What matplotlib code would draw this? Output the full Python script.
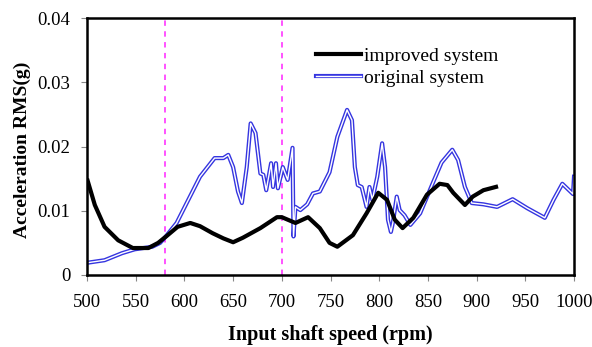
import numpy as np
import matplotlib
matplotlib.use('Agg')
import matplotlib.pyplot as plt
from matplotlib.lines import Line2D
import matplotlib.patheffects as pe

plt.rcParams['font.family'] = ['Liberation Serif', 'DejaVu Serif']

# improved system
imp_rpm = [500, 508, 518, 532, 547, 563, 573, 582, 593, 606, 616, 629, 640, 650, 660,
           678, 695, 700, 714, 727, 739, 749, 757, 773, 787, 799, 808, 816, 824, 835,
           849, 862, 870, 876, 888, 896, 907, 922]
imp_rms = [0.0150, 0.0109, 0.0075, 0.0054, 0.0042, 0.0042, 0.0050, 0.0061, 0.0075, 0.0081,
           0.0076, 0.0065, 0.0057, 0.0051, 0.0058, 0.0073, 0.0090, 0.0090, 0.0081, 0.0090,
           0.0073, 0.0050, 0.0044, 0.0062, 0.0096, 0.0128, 0.0117, 0.0086, 0.0073, 0.0089,
           0.0125, 0.0142, 0.0140, 0.0128, 0.0109, 0.0122, 0.0132, 0.0138]

# original system
org_rpm = [500, 518, 536, 549, 567, 575, 582, 592, 604, 616, 631, 640, 645, 650, 655,
           659, 664, 668, 673, 678, 681, 684, 689, 691, 694, 696, 701, 706, 711, 712,
           714, 719, 726, 732, 739, 749, 757, 762, 767, 772, 775, 778, 782, 787, 790,
           793, 798, 803, 806, 809, 812, 814, 818, 821, 826, 832, 842, 855, 864, 875,
           881, 888, 895, 907, 921, 937, 952, 970, 979, 988, 999, 1000]
org_rms = [0.0019, 0.0023, 0.0034, 0.0040, 0.0044, 0.0050, 0.0062, 0.0081, 0.0117, 0.0153,
           0.0182, 0.0182, 0.0187, 0.0168, 0.0130, 0.0112, 0.0168, 0.0236, 0.0221, 0.0158,
           0.0156, 0.0132, 0.0174, 0.0137, 0.0174, 0.0135, 0.0168, 0.0148, 0.0198, 0.0060,
           0.0106, 0.0101, 0.0110, 0.0127, 0.0130, 0.0160, 0.0215, 0.0236, 0.0257, 0.0241,
           0.0168, 0.0140, 0.0137, 0.0106, 0.0137, 0.0117, 0.0153, 0.0205, 0.0168, 0.0086,
           0.0067, 0.0081, 0.0122, 0.0101, 0.0093, 0.0078, 0.0096, 0.0143, 0.0175, 0.0195,
           0.0179, 0.0137, 0.0112, 0.0110, 0.0106, 0.0118, 0.0104, 0.0089, 0.0117, 0.0142,
           0.0126, 0.0153]

vlines = [580, 700]

fig = plt.figure(figsize=(5.92, 3.47), dpi=100)
ax = fig.add_axes([0.147, 0.2075, 0.8226, 0.7405])

for v in vlines:
    ax.axvline(v, color='#ff44ff', lw=1.3, ls=(0, (3, 3)), zorder=1)

ax.plot(imp_rpm, imp_rms, color='black', lw=3, zorder=3, solid_capstyle='butt')
ax.plot(org_rpm, org_rms, color='#3535e0', lw=3.0, zorder=2)
ax.plot(org_rpm, org_rms, color='white', lw=1.0, zorder=2)

ax.set_xlim(500, 1000)
ax.set_ylim(0, 0.04)
ax.set_xticks(np.arange(500, 1001, 50))
ax.set_yticks([0, 0.01, 0.02, 0.03, 0.04])
ax.set_yticklabels(['0', '0.01', '0.02', '0.03', '0.04'])
ax.tick_params(axis='both', labelsize=13.5, color='#888888', length=4)
ax.tick_params(axis='x', pad=10)
ax.tick_params(axis='y', pad=8)

for s in ax.spines.values():
    s.set_linewidth(1.8)
    s.set_color('black')

ax.set_xlabel('Input shaft speed (rpm)', fontsize=14.5, fontweight='bold')
ax.xaxis.set_label_coords(0.5, -0.195)
ax.set_ylabel('Acceleration RMS(g)', fontsize=14, fontweight='bold')
ax.yaxis.set_label_coords(-0.115, 0.486)

# legend handles
h1 = Line2D([], [], color='black', lw=3)
h2 = Line2D([], [], color='white', lw=1.0,
            path_effects=[pe.Stroke(linewidth=3.0, foreground='#3535e0'), pe.Normal()])
ax.legend([h1, h2], ['improved system', 'original system'], loc='upper left',
          bbox_to_anchor=(0.435, 0.955), frameon=False, fontsize=14,
          handlelength=2.3, handletextpad=0.15, labelspacing=0.25)

fig.savefig('out.png', dpi=100)
